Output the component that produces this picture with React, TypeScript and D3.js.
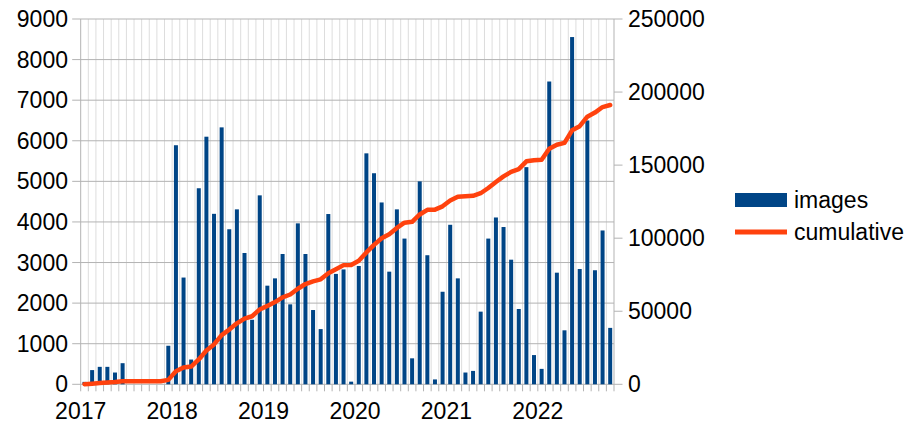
import React from "react";
import * as d3 from "d3";

const months = [
  "2017-01","2017-02","2017-03","2017-04","2017-05","2017-06","2017-07","2017-08","2017-09","2017-10","2017-11","2017-12",
  "2018-01","2018-02","2018-03","2018-04","2018-05","2018-06","2018-07","2018-08","2018-09","2018-10","2018-11","2018-12",
  "2019-01","2019-02","2019-03","2019-04","2019-05","2019-06","2019-07","2019-08","2019-09","2019-10","2019-11","2019-12",
  "2020-01","2020-02","2020-03","2020-04","2020-05","2020-06","2020-07","2020-08","2020-09","2020-10","2020-11","2020-12",
  "2021-01","2021-02","2021-03","2021-04","2021-05","2021-06","2021-07","2021-08","2021-09","2021-10","2021-11","2021-12",
  "2022-01","2022-02","2022-03","2022-04","2022-05","2022-06","2022-07","2022-08","2022-09","2022-10",
];

const images = [
  60, 350, 430, 430, 290, 520, 0, 0, 0, 0, 0, 950,
  5890, 2630, 610, 4830, 6100, 4200, 6330, 3820, 4310, 3235, 1590, 4655,
  2430, 2610, 3210, 1970, 3965, 3210, 1830, 1360, 4195, 2720, 2830, 65,
  2915, 5690, 5200, 4480, 2775, 4310, 3590, 640, 5000, 3180, 120, 2280,
  3930, 2610, 290, 330, 1790, 3590, 4110, 3875, 3070, 1855, 5350, 720,
  380, 7460, 2750, 1330, 8555, 2840, 6500, 2810, 3790, 1390,
];

const cumulative = [
  60, 410, 840, 1270, 1560, 2080, 2080, 2080, 2080, 2080, 2080, 3030,
  8920, 11550, 12160, 16990, 23090, 27290, 33620, 37440, 41750, 44985, 46575, 51230,
  53660, 56270, 59480, 61450, 65415, 68625, 70455, 71815, 76010, 78730, 81560, 81625,
  84540, 90230, 95430, 99910, 102685, 106995, 110585, 111225, 116225, 119405, 119525, 121805,
  125735, 128345, 128635, 128965, 130755, 134345, 138455, 142330, 145400, 147255, 152605, 153325,
  153705, 161165, 163915, 165245, 173800, 176640, 183140, 185950, 189740, 191130,
];

const leftTicks = [0, 1000, 2000, 3000, 4000, 5000, 6000, 7000, 8000, 9000];
const rightTicks = [0, 50000, 100000, 150000, 200000, 250000];
const yearLabels = ["2017", "2018", "2019", "2020", "2021", "2022"];
const seriesNames = ["images", "cumulative"];

const BLUE = "#004586";
const ORANGE = "#ff420e";
const FONT = "'Liberation Sans', Arial, sans-serif";
const FS = 23;

export default function App() {
  const W = 907, H = 424;
  const left = 80.7, right = 614, top = 19, bottom = 384.3;

  const x = d3.scaleBand<string>().domain(months).range([left, right]).padding(0);
  const bw = x.bandwidth();
  const yL = d3.scaleLinear().domain([0, 9000]).range([bottom, top]);
  const yR = d3.scaleLinear().domain([0, 250000]).range([bottom, top]);

  const line = d3
    .line<number>()
    .x((_, i) => (x(months[i]) as number) + bw / 2)
    .y((d) => yR(d));

  const boundaries = months.map((m) => x(m) as number).concat([right]);
  const barW = 4;

  return (
    <div style={{ position: "absolute", left: 0, top: 0 }}>
      <svg width={W} height={H} style={{ display: "block", background: "#fff" }}>
        {boundaries.slice(1, -1).map((bx, i) => (
          <line key={"vg" + i} x1={bx} x2={bx} y1={top} y2={bottom} stroke="#dddddd" strokeWidth={1} />
        ))}
        {leftTicks.map((t) => (
          <line key={"hg" + t} x1={left - 8.5} x2={right} y1={yL(t)} y2={yL(t)} stroke="#b3b3b3" strokeWidth={1} />
        ))}
        <line x1={left} x2={left} y1={top} y2={bottom + 7} stroke="#b3b3b3" strokeWidth={1} />
        <line x1={right} x2={right} y1={top} y2={bottom + 7} stroke="#b3b3b3" strokeWidth={1} />
        {boundaries.slice(1, -1).map((bx, i) => (
          <line key={"xt" + i} x1={bx} x2={bx} y1={bottom} y2={bottom + 7} stroke="#b3b3b3" strokeWidth={1} />
        ))}
        {rightTicks.map((t) => (
          <line key={"rt" + t} x1={right} x2={right + 8.5} y1={yR(t)} y2={yR(t)} stroke="#b3b3b3" strokeWidth={1} />
        ))}
        {images.map((v, i) => (
          <rect
            key={"b" + i}
            x={(x(months[i]) as number) + bw / 2 - barW / 2}
            y={yL(v)}
            width={barW}
            height={yL(0) - yL(v)}
            fill={BLUE}
          />
        ))}
        <path d={line(cumulative) || ""} fill="none" stroke={ORANGE} strokeWidth={4.5} strokeLinejoin="round" strokeLinecap="round" />
        {leftTicks.map((t) => (
          <text key={"ll" + t} x={68} y={yL(t)} dy="0.35em" textAnchor="end" fontFamily={FONT} fontSize={FS} fill="#000">
            {t}
          </text>
        ))}
        {rightTicks.map((t) => (
          <text key={"rl" + t} x={628} y={yR(t)} dy="0.35em" textAnchor="start" fontFamily={FONT} fontSize={FS} fill="#000">
            {t}
          </text>
        ))}
        {yearLabels.map((yl) => (
          <text key={"yl" + yl} x={x(yl + "-01") as number} y={419} textAnchor="middle" fontFamily={FONT} fontSize={FS} fill="#000">
            {yl}
          </text>
        ))}
        <rect x={735} y={193} width={52} height={14} fill={BLUE} />
        <text x={794} y={200} dy="0.35em" fontFamily={FONT} fontSize={FS} fill="#000">{seriesNames[0]}</text>
        <line x1={735} x2={787} y1={232} y2={232} stroke={ORANGE} strokeWidth={5} />
        <text x={794} y={232} dy="0.35em" fontFamily={FONT} fontSize={FS} fill="#000">{seriesNames[1]}</text>
      </svg>
    </div>
  );
}
